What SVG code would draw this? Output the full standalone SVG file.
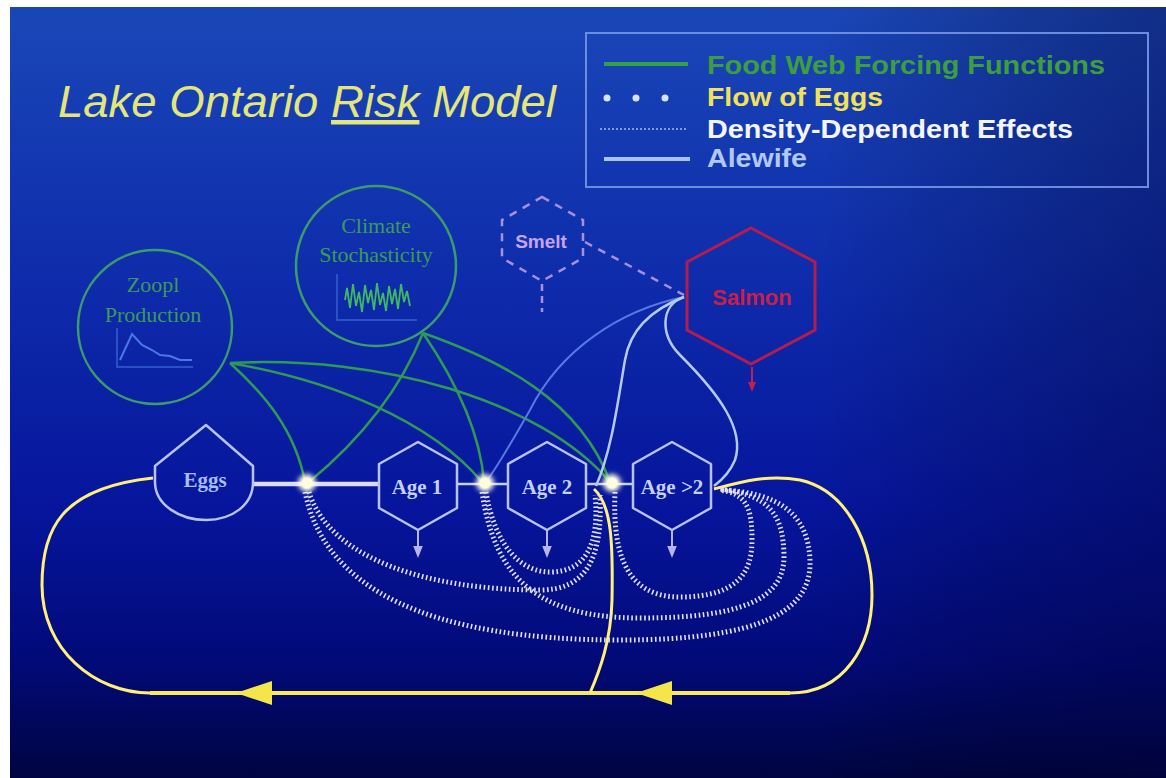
<svg xmlns="http://www.w3.org/2000/svg" width="1166" height="778" viewBox="0 0 1166 778">
  <defs>
    <linearGradient id="bg" x1="0" y1="0" x2="0" y2="1">
      <stop offset="0" stop-color="#1a47b8"/>
      <stop offset="0.35" stop-color="#0e2cab"/>
      <stop offset="0.65" stop-color="#06159c"/>
      <stop offset="0.85" stop-color="#020a78"/>
      <stop offset="1" stop-color="#000440"/>
    </linearGradient>
    <linearGradient id="shade" x1="0" y1="0" x2="1" y2="0">
      <stop offset="0" stop-color="#000" stop-opacity="0"/>
      <stop offset="0.7" stop-color="#000" stop-opacity="0"/>
      <stop offset="1" stop-color="#000030" stop-opacity="0.35"/>
    </linearGradient>
    <filter id="glow" x="-1" y="-1" width="3" height="3">
      <feGaussianBlur stdDeviation="2.5"/>
    </filter>
    <marker id="down" viewBox="0 0 10 10" refX="5" refY="5" markerWidth="6" markerHeight="6" orient="auto">
      <path d="M0,1 L10,5 L0,9 Z" fill="#b8b4f0"/>
    </marker>
    <marker id="downRed" viewBox="0 0 10 10" refX="5" refY="5" markerWidth="5" markerHeight="5" orient="auto">
      <path d="M0,1 L10,5 L0,9 Z" fill="#c0204c"/>
    </marker>
    <style>
      .hex { fill: none; stroke: #b8c2f8; stroke-width: 2.5; stroke-linejoin: round; }
      .lbl { font-family: "Liberation Serif", "DejaVu Serif", serif; font-size: 21px; font-weight: bold; fill: #c4d0ff; text-anchor: middle; }
      .glbl { font-family: "Liberation Serif", "DejaVu Serif", serif; font-size: 22px; fill: #3d9a58; text-anchor: middle; }
      .ring { fill: none; stroke: #3d9a6a; stroke-width: 2.5; }
      .green { fill: none; stroke: #2f9a52; stroke-width: 2.5; }
      .alewife { fill: none; stroke: #b4caf4; stroke-width: 2.5; }
      .egg { fill: none; stroke: #fff07a; stroke-width: 3; }
      .dd { fill: none; stroke: #e2e2f2; stroke-width: 5; stroke-dasharray: 1.6 2.6; }
      .mort { stroke: #b8b4f0; stroke-width: 2; marker-end: url(#down); }
      .leg { font-family: "Liberation Sans", Arial, sans-serif; font-size: 26px; font-weight: bold; }
    </style>
  </defs>

  <!-- slide background -->
  <rect x="0" y="0" width="1166" height="778" fill="#ffffff"/>
  <rect x="10" y="7" width="1156" height="771" fill="url(#bg)"/>
  <rect x="10" y="7" width="1156" height="771" fill="url(#shade)"/>

  <!-- title -->
  <text x="58" y="117" font-family="Liberation Sans, Arial, sans-serif" font-style="italic" font-size="45" fill="#e4e67a" textLength="498" lengthAdjust="spacingAndGlyphs">Lake Ontario <tspan text-decoration="underline">Risk</tspan> Model</text>

  <!-- legend -->
  <g id="legend">
    <rect x="586" y="33" width="562" height="154" fill="none" stroke="#6c8ce0" stroke-width="2"/>
    <line x1="604" y1="64" x2="688" y2="64" stroke="#35a04a" stroke-width="4"/>
    <text class="leg" x="707" y="74" fill="#3e9e3e" textLength="398" lengthAdjust="spacingAndGlyphs">Food Web Forcing Functions</text>
    <circle cx="607" cy="98" r="3.5" fill="#d8e4ff"/>
    <circle cx="636" cy="98" r="3.5" fill="#d8e4ff"/>
    <circle cx="665" cy="98" r="3.5" fill="#d8e4ff"/>
    <text class="leg" x="707" y="106" fill="#f2e25a" textLength="176" lengthAdjust="spacingAndGlyphs">Flow of Eggs</text>
    <line x1="600" y1="129" x2="688" y2="129" stroke="#a8b8ec" stroke-width="1.5" stroke-dasharray="2 2"/>
    <text class="leg" x="707" y="138" fill="#f4f6ff" textLength="366" lengthAdjust="spacingAndGlyphs">Density-Dependent Effects</text>
    <line x1="604" y1="159" x2="690" y2="159" stroke="#a8c2f2" stroke-width="4"/>
    <text class="leg" x="707" y="167" fill="#b0c8f2" textLength="100" lengthAdjust="spacingAndGlyphs">Alewife</text>
  </g>

  <!-- connectors -->
  <g id="connectors">
    <!-- yellow egg-return loops -->
    <path class="egg" d="M714,489 C740,482 768,474 800,480 C845,490 872,540 872,595 C872,645 845,693 790,693 L150,693 C95,693 42,650 42,585 C42,530 60,488 153,478"/>
    <line x1="150" y1="693" x2="790" y2="693" stroke="#f6ea60" stroke-width="4"/>
    <path class="egg" d="M594,489 C612,505 613,545 612,600 C611,640 600,670 590,693"/>
    <path d="M236,693 L272,681 L272,705 Z" fill="#f4e64a"/>
    <path d="M636,693 L672,681 L672,705 Z" fill="#f4e64a"/>

    <!-- density-dependent / egg flow dotted curves -->
    <path class="dd" d="M305,492 C325,590 430,640 620,640 C760,640 812,612 810,560 C808,515 780,492 720,490"/>
    <path class="dd" d="M309,492 C330,560 430,590 540,590 C585,590 603,560 600,495"/>
    <path class="dd" d="M482,492 C495,580 540,618 640,618 C740,618 785,600 784,555 C783,515 770,495 720,489"/>
    <path class="dd" d="M486,492 C495,545 520,572 550,572 C585,572 600,545 595,495"/>
    <path class="dd" d="M615,492 C612,560 630,597 680,597 C740,597 752,570 752,540 C752,505 745,494 720,490"/>

    <!-- stage chain -->
    <line x1="253" y1="484" x2="380" y2="484" stroke="#dcdcfa" stroke-width="4.5"/>
    <line x1="456" y1="484" x2="508" y2="484" stroke="#c8d0fa" stroke-width="2.5"/>
    <line x1="586" y1="484" x2="633" y2="484" stroke="#c8d0fa" stroke-width="2.5"/>

    <!-- food web forcing functions -->
    <path class="green" d="M230,363 C265,395 295,430 305,482"/>
    <path class="green" d="M230,363 C330,380 430,420 482,482"/>
    <path class="green" d="M230,363 C380,355 540,400 610,482"/>
    <path class="green" d="M423,333 C400,390 360,440 309,482"/>
    <path class="green" d="M423,333 C455,380 480,430 484,482"/>
    <path class="green" d="M423,333 C500,360 580,400 610,482"/>

    <!-- alewife predation links from salmon -->
    <path fill="none" stroke="#5a78e4" stroke-width="2" d="M684,297 C620,310 560,350 530,410 C510,445 495,470 486,482"/>
    <path class="alewife" d="M684,297 C650,310 630,330 625,360 C618,400 612,450 596,486"/>
    <path class="alewife" d="M684,297 C660,305 660,335 680,355 C720,395 745,430 735,460 C730,472 722,480 714,486"/>

    <!-- smelt link -->
    <line x1="585" y1="242" x2="684" y2="295" stroke="#a890e0" stroke-width="2.5" stroke-dasharray="8 7"/>
    <line x1="542" y1="284" x2="542" y2="312" stroke="#a890e0" stroke-width="2.5" stroke-dasharray="7 5"/>

    <!-- losses -->
    <line class="mort" x1="418" y1="531" x2="418" y2="552"/>
    <line class="mort" x1="547" y1="531" x2="547" y2="552"/>
    <line class="mort" x1="672" y1="531" x2="672" y2="552"/>
    <line x1="752" y1="367" x2="752" y2="387" stroke="#c0204c" stroke-width="2" marker-end="url(#downRed)"/>

    <!-- junctions -->
    <g fill="#fffbe0">
      <circle cx="307" cy="483" r="9" filter="url(#glow)"/>
      <circle cx="307" cy="483" r="5.5"/>
      <circle cx="485" cy="483" r="9" filter="url(#glow)"/>
      <circle cx="485" cy="483" r="5.5"/>
      <circle cx="612" cy="483" r="9" filter="url(#glow)"/>
      <circle cx="612" cy="483" r="5.5"/>
    </g>
  </g>

  <!-- forcing nodes -->
  <g id="zooplankton">
    <circle class="ring" cx="155" cy="327" r="77"/>
    <text class="glbl" x="153" y="292">Zoopl</text>
    <text class="glbl" x="153" y="322">Production</text>
    <path d="M117,328 L117,367 L193,367" fill="none" stroke="#3460d0" stroke-width="1.5"/>
    <path d="M120,360 L132,334 L142,345 L152,350 L160,355 L170,356 L180,360 L192,360" fill="none" stroke="#4a78e8" stroke-width="2"/>
  </g>

  <g id="climate">
    <circle class="ring" cx="376" cy="266" r="80"/>
    <text class="glbl" x="376" y="233">Climate</text>
    <text class="glbl" x="376" y="262">Stochasticity</text>
    <path d="M337,274 L337,320 L417,320" fill="none" stroke="#3460d0" stroke-width="1.5"/>
    <path d="M345,300 L347,288 L350,308 L353,284 L356,306 L359,292 L362,312 L365,285 L368,303 L371,290 L374,310 L377,283 L380,305 L383,293 L386,311 L389,286 L392,304 L395,289 L398,309 L401,284 L404,302 L407,291 L410,306" fill="none" stroke="#40b860" stroke-width="1.8"/>
  </g>

  <g id="smelt">
    <polygon points="542,197 583,220 583,258 542,281 502,258 502,220" fill="none" stroke="#a890e0" stroke-width="2.5" stroke-dasharray="8 7"/>
    <text x="541" y="248" font-family="Liberation Sans, Arial, sans-serif" font-size="19" font-weight="bold" fill="#c4a4ee" text-anchor="middle">Smelt</text>
  </g>

  <g id="salmon">
    <polygon points="751,228 815,262 815,330 751,364 687,330 687,262" fill="none" stroke="#b41c4e" stroke-width="3"/>
    <text x="752" y="305" font-family="Liberation Sans, Arial, sans-serif" font-size="22" font-weight="bold" fill="#c81e4a" text-anchor="middle">Salmon</text>
  </g>

  <!-- life stages -->
  <g id="eggs">
    <path class="hex" d="M206,425 L253,466 L253,482 C253,505 232,520 206,520 C180,520 155,505 155,482 L155,466 Z"/>
    <text class="lbl" x="205" y="487" style="fill:#a8bcf2">Eggs</text>
  </g>

  <g id="age1">
    <polygon class="hex" points="418,442 457,464 457,508 418,530 379,508 379,464"/>
    <text class="lbl" x="417" y="494">Age 1</text>
  </g>

  <g id="age2">
    <polygon class="hex" points="547,442 586,464 586,508 547,530 508,508 508,464"/>
    <text class="lbl" x="547" y="494">Age 2</text>
  </g>

  <g id="age3plus">
    <polygon class="hex" points="672,442 711,464 711,508 672,530 633,508 633,464"/>
    <text class="lbl" x="672" y="494">Age &gt;2</text>
  </g>
</svg>
